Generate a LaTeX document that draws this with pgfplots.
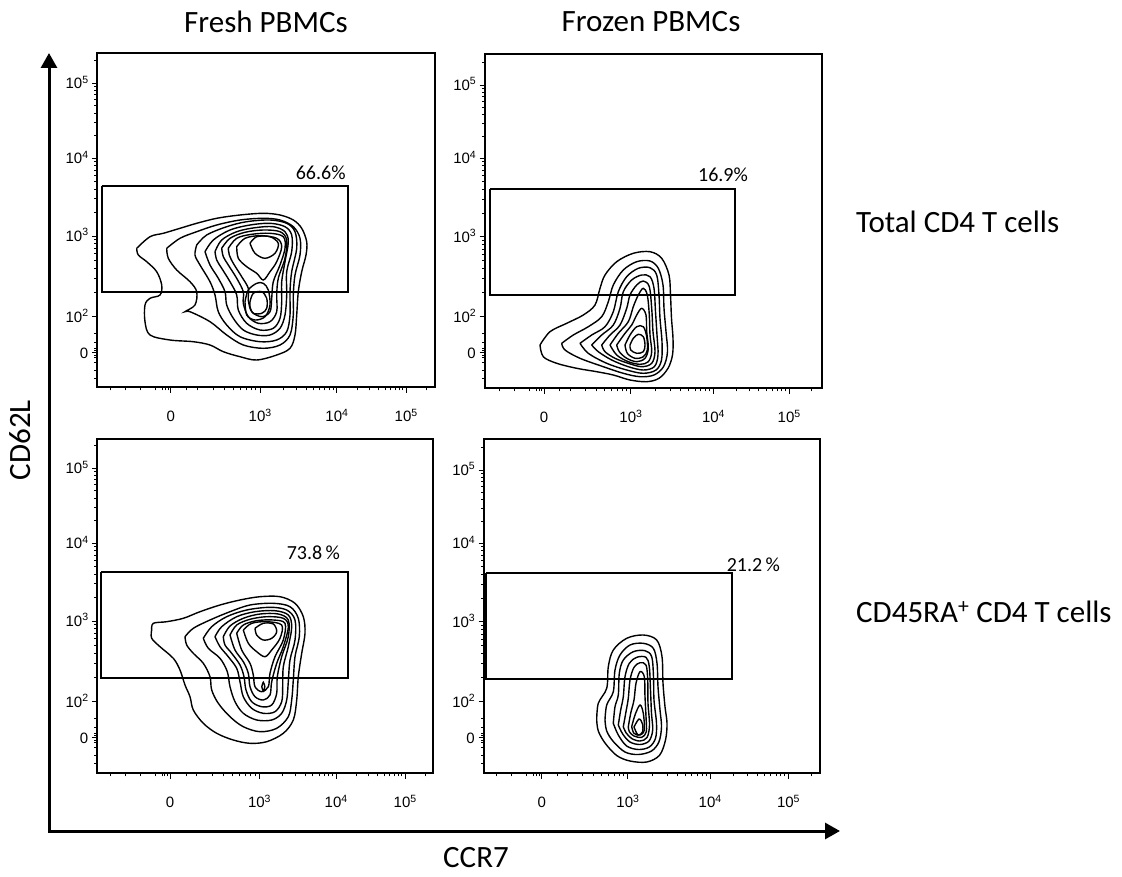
\documentclass[border=0pt]{standalone}
\usepackage{fontspec}
\setmainfont{Carlito}
\newfontfamily\arialf{Liberation Sans}
\usepackage{pgfplots}
\pgfplotsset{compat=1.18}
\usetikzlibrary{arrows.meta}

\newcommand{\tk}[1]{\arialf\fontsize{15}{16}\selectfont 10\raisebox{5.5pt}{\fontsize{10.5}{11}\selectfont #1}}
\newcommand{\tz}{\arialf\fontsize{15}{16}\selectfont 0}

\tikzset{pct/.style={font=\fontsize{20}{22}\selectfont}}
\pgfplotsset{
  flowpanel/.style={
    scale only axis, y dir=reverse, clip=false,
    axis line style={line width=2.2pt},
    tick align=outside, tick pos=left,
    major tick length=5.5pt, minor tick length=3pt,
    every tick/.style={black, line width=1pt},
    xticklabel style={anchor=base, inner sep=0pt, yshift=-29pt},
    yticklabel style={anchor=base east, inner sep=0pt, yshift=-5.3pt, xshift=-3.5pt},
    xticklabels={\tz,\tk{3},\tk{4},\tk{5}},
    yticklabels={\tk{5},\tk{4},\tk{3},\tk{2},\tz},
  },
  cont/.style={black, line width=1.4pt, smooth, tension=0.55, mark=none},
  gate/.style={black, line width=1.8pt, mark=none, sharp plot},
}

\begin{document}
\begin{tikzpicture}
\useasboundingbox (0pt,0pt) rectangle (1122pt,-877pt);

% ---------------- Top left: Fresh, total CD4 ----------------
\begin{axis}[flowpanel, at={(97.3pt,-53.3pt)}, anchor=north west,
  width=337.7pt, height=334pt,
  xmin=97.3, xmax=435, ymin=53.3, ymax=387.3,
  xtick={170.7,260,336.7,406},
  minor xtick={110.7,125.7,140.7,155.7,162.7,165.5,168,186.8,197.6,213.3,224.5,233.1,240.2,246.2,251.3,255.9,283.1,296.6,306.2,313.6,319.7,324.8,329.3,333.2,357.6,369.8,378.4,385.1,390.6,395.3,399.3,402.8,426.9},
  ytick={83.3,158.3,236,316.7,352.7},
  minor ytick={60.7,86.7,90.6,94.9,99.9,105.9,113.1,122.5,135.7,161.9,165.8,170.3,175.5,181.7,189.2,198.9,212.6,239.7,243.8,248.5,253.9,260.3,268.1,278.2,292.4,333,342,348,350.5,355,357,362,370,378},
]
\addplot[gate] coordinates {(101.7,185.7) (348.3,185.7) (348.3,291.7) (101.7,291.7) (101.7,185.7)};
\node[pct] at (axis cs:320.7,172.7) {66.6\%};
\addplot[cont] coordinates {(136.7,248.3) (150,236.7) (163.3,233.3) (180,228.3) (196.7,223.3) (216.7,218.3) (240,215) (263.3,213.3) (280,215) (293.3,220) (301.7,228.3) (306.7,241.7) (306,255) (301.7,271.7) (298.3,291.7) (296.7,315) (295,335) (290,348.3) (276.7,355) (256.7,360) (240,356.7) (223.3,351.7) (210,345) (193.3,341.7) (170,340) (150,335) (145,321.7) (145,305) (150,298.3) (160,295) (161.7,285) (156.7,271.7) (146.7,261.7) (138.3,255) (136.7,248.3)};
\addplot[cont] coordinates {(166.7,248.3) (180,238.3) (196.7,231.7) (216.7,225) (240,220) (263.3,218.3) (280,220) (293.3,226.7) (300,238.3) (300,255) (295,275) (293.3,295) (293.3,315) (290,335) (280,345) (263.3,348.3) (243.3,345) (226.7,335) (210,321.7) (190,311.7) (185,311.7) (195,305) (196.7,291.7) (190,281.7) (176.7,270) (168.3,258.3) (166.7,248.3)};
\addplot[cont] coordinates {(196.7,245) (206.7,235) (226.7,226.7) (246.7,221.7) (270,220) (286.7,223.3) (295,231.7) (296.7,248.3) (291.7,271.7) (290,291.7) (290,315) (286.7,331.7) (276.7,340) (260,341.7) (240,336.7) (226.7,325) (218.3,311.7) (215,295) (210,281.7) (200,265) (195,255) (196.7,245)};
\addplot[cont] coordinates {(205,251.7) (213.3,240) (230,230) (250,225) (270,223.3) (285,226.7) (291.7,235) (291.7,251.7) (286.7,271.7) (286.7,295) (285,315) (280,328.3) (270,335) (256.7,335) (243.3,330) (233.3,318.3) (226.7,305) (225,291.7) (218.3,278.3) (210,265) (205,251.7)};
\addplot[cont] coordinates {(215,251.7) (221.7,240) (236.7,231.7) (255,227.7) (273.3,226.7) (285,231.7) (288.3,241.7) (285,261.7) (281.7,281.7) (281.7,301.7) (280,318.3) (273.3,328.3) (260,330) (246.7,323.3) (238.3,310) (236.7,295) (230,281.7) (221.7,268.3) (216.7,260) (215,251.7)};
\addplot[cont] coordinates {(221.7,248.3) (230,238.3) (245,232.3) (263.3,230) (280,231.7) (286.7,240) (285,258.3) (278.3,278.3) (276.7,295) (276.7,311.7) (270,321.7) (258.3,323.3) (248.3,316.7) (243.3,303.3) (243.3,291.7) (236.7,278.3) (228.3,265) (223.3,256.7) (221.7,248.3)};
\addplot[cont] coordinates {(228.3,248.3) (236.7,238.3) (251.7,234.3) (270,233.3) (283.3,236.7) (285,248.3) (280,265) (273.3,281.7) (271.7,298.3) (270,311.7) (261.7,316.7) (251.7,311.7) (248.3,300) (248.3,288.3) (241.7,276.7) (233.3,263.3) (229.3,255) (228.3,248.3)};
\addplot[cont] coordinates {(236.7,246.7) (245,238.3) (260,235.7) (276.7,238.3) (281.7,246.7) (276.7,261.7) (270,271.7) (263.3,280) (256.7,273.3) (246.7,266.7) (238.3,258.3) (236.7,246.7)};
\addplot[cont] coordinates {(245,301.7) (248.3,290) (256.7,283.3) (263.3,283.3) (268.3,290) (270,305) (265,316.7) (255,320) (246.7,315) (245,301.7)};
\addplot[cont] coordinates {(250,243.3) (256.7,236.7) (270,236.7) (278.3,243.3) (275,253.3) (265,258.3) (255,253.3) (250,243.3)};
\addplot[cont] coordinates {(250,301.7) (253.3,293.3) (261.7,291.7) (266.7,298.3) (266.7,308.3) (261.7,313.3) (253.3,313.3) (250,306.7) (250,301.7)};
\end{axis}

% ---------------- Top right: Frozen, total CD4 ----------------
\begin{axis}[flowpanel, at={(485pt,-54pt)}, anchor=north west,
  width=336.7pt, height=334.3pt,
  xmin=485, xmax=821.7, ymin=54, ymax=388.3,
  xtick={544,630.7,713.3,789},
  minor xtick={499,514,529,536,539,541.5,559.6,570.1,585.4,596.2,604.6,611.5,617.3,622.3,626.7,655.6,670.1,680.4,688.4,695.0,700.5,705.3,709.5,736.1,749.4,758.9,766.2,772.2,777.3,781.7,785.5,811.8},
  ytick={85,158.3,236.7,316.7,352.7},
  minor ytick={62.9,88.4,92.1,96.4,101.3,107.1,114.2,123.3,136.2,161.9,165.9,170.5,175.7,181.9,189.5,199.3,213.1,240.4,244.5,249.1,254.5,260.8,268.5,278.5,292.6,333,342,348,350.5,355,357,362,370,378},
]
\addplot[gate] coordinates {(490,189) (735,189) (735,295) (490,295) (490,189)};
\node[pct] at (axis cs:723,175) {16.9\%};
\addplot[cont] coordinates {(540,345) (550,331.7) (566.7,323.3) (583.3,315) (595,305) (600,288.3) (605,275) (616.7,261.7) (633.3,253.3) (650,251.7) (661.7,258.3) (669,275) (670.5,295) (671.5,318.3) (673,338.3) (672.5,355) (668,368.3) (659,378.3) (646.7,381.7) (630,380) (613.3,375) (596.7,371.7) (576.7,368.3) (556.7,363.3) (543.3,356.7) (540,345)};
\addplot[cont] coordinates {(561.7,343.3) (573.3,335) (588.3,326.7) (601.7,316.7) (608.3,301.7) (613.3,285) (623.3,270) (636.7,261.7) (650,261) (658.3,268.3) (663,285) (664,308.3) (666,331.7) (667.5,351.7) (663.5,366.7) (654,375) (640,376.7) (623.3,373.3) (603.3,366.7) (580,358.3) (565,350) (561.7,343.3)};
\addplot[cont] coordinates {(580,343.3) (591.7,335) (605,326.7) (613.3,311.7) (618.3,291.7) (626.7,276.7) (638.3,268.3) (650,267.7) (656.7,275) (659,295) (660,318.3) (662,341.7) (661.5,360) (656,370) (643.3,373.3) (626.7,370) (606.7,363.3) (588.3,353.3) (580,343.3)};
\addplot[cont] coordinates {(591.7,345) (601.7,335) (613.3,325) (620,308.3) (623.3,291.7) (631.7,280) (641.7,275) (650,276.7) (654,288.3) (655.5,311.7) (657,335) (658,355) (654.3,366.7) (643.3,370) (628.3,366.7) (611.7,360) (598.3,351.7) (591.7,345)};
\addplot[cont] coordinates {(601.7,345) (610,335) (620,325) (626.7,308.3) (630,295) (636.7,285) (643.3,281) (649.3,286.7) (651.7,308.3) (653,331.7) (655,351.7) (651.7,363.3) (641.7,366.7) (628.3,363.3) (615,358.3) (605,351.7) (601.7,345)};
\addplot[cont] coordinates {(610,345) (618.3,333.3) (628.3,321.7) (633.3,306.7) (638.3,295) (643.3,288.3) (647.3,295) (649.3,315) (650,335) (651.7,351.7) (648.3,361.7) (640,364.3) (628.3,361.7) (616.7,355) (610,345)};
\addplot[cont] coordinates {(616.7,345) (625,333.3) (631.7,325) (636.7,315) (641.7,308.3) (646,315) (646.7,331.7) (648.3,348.3) (645,358.3) (636.7,361.7) (626.7,358.3) (619.3,351.7) (616.7,345)};
\addplot[cont] coordinates {(625,345) (630,335) (636.7,326.7) (643.3,326.7) (646.7,336.7) (647.3,350) (643.3,356.7) (635,358.3) (627.3,353.3) (625,345)};
\addplot[cont] coordinates {(630,345) (633.3,338.3) (638.3,334.3) (643.3,336.7) (645,345) (643.3,351.7) (636.7,353.3) (630.7,350) (630,345)};
\end{axis}

% ---------------- Bottom left: Fresh, CD45RA+ ----------------
\begin{axis}[flowpanel, at={(97.3pt,-439.3pt)}, anchor=north west,
  width=336pt, height=334pt,
  xmin=97.3, xmax=433.3, ymin=439.3, ymax=773.3,
  xtick={170,259.3,336,405},
  minor xtick={110,125,140,155,162,164.8,167.3,186.1,196.9,212.6,223.8,232.4,239.5,245.5,250.6,255.2,282.4,295.9,305.5,312.9,319.0,324.1,328.6,332.5,356.8,368.9,377.5,384.2,389.7,394.3,398.3,401.8,425.8},
  ytick={468.3,543.3,621,701.7,737.7},
  minor ytick={445.7,471.7,475.6,479.9,484.9,490.9,498.1,507.5,520.7,546.9,550.8,555.3,560.5,566.7,574.2,583.9,597.6,624.7,628.8,633.5,638.9,645.3,653.1,663.2,677.4,718,727,733,735.5,740,742,747,755,763},
]
\addplot[gate] coordinates {(101,571.7) (348.3,571.7) (348.3,678.3) (101,678.3) (101,571.7)};
\node[pct] at (axis cs:313.3,552.7) {73.8\,\%};
\addplot[cont] coordinates {(151.7,630) (153.3,623.3) (166.7,621.7) (183.3,618.3) (200,611.7) (220,605) (240,600) (260,596.7) (280,596.7) (295,603.3) (303.3,616.7) (305,633.3) (301.7,653.3) (298.3,676.7) (296.7,700) (293.3,720) (283.3,733.3) (266.7,741.7) (250,743.3) (233.3,740) (216.7,733.3) (203.3,723.3) (193.3,710) (190,696.7) (185,685) (180,670) (173.3,658.3) (160,646.7) (151.7,638.3) (151.7,630)};
\addplot[cont] coordinates {(185,636.7) (193.3,628.3) (210,620) (230,611.7) (250,605) (273.3,603.3) (290,606.7) (298.3,618.3) (299.3,636.7) (295,656.7) (293.3,680) (291.7,700) (288.3,716.7) (276.7,728.3) (260,731.7) (243.3,726.7) (230,716.7) (218.3,703.3) (211.7,690) (210,676.7) (203.3,663.3) (193.3,653.3) (186.7,645) (185,636.7)};
\addplot[cont] coordinates {(203.3,638.3) (211.7,626.7) (226.7,616.7) (246.7,610) (270,607.3) (286.7,610) (295,620) (295,640) (290,660) (288.3,681.7) (286.7,700) (281.7,713.3) (271.7,720) (256.7,720) (243.3,713.3) (235,701.7) (230,686.7) (227.3,671.7) (220,658.3) (208.3,648.3) (203.3,638.3)};
\addplot[cont] coordinates {(215,636.7) (221.7,626.7) (236.7,616.7) (255,611.7) (275,610.7) (288.3,615) (291.7,626.7) (288.3,646.7) (283.3,666.7) (282.7,686.7) (281.7,701.7) (275,711.7) (263.3,713.3) (251.7,708.3) (243.3,696.7) (240,681.7) (236.7,668.3) (228.3,656.7) (220,646.7) (215,636.7)};
\addplot[cont] coordinates {(223.3,636.7) (230,626) (243.3,618.3) (260,614) (278.3,614) (288.3,620) (288.3,636.7) (281.7,656.7) (277.3,676.7) (276.7,693.3) (271.7,705) (261.7,706.7) (251.7,701.7) (246,690) (244,676.7) (240,665) (231.7,653.3) (225,645) (223.3,636.7)};
\addplot[cont] coordinates {(230,635) (236.7,625) (250,619.3) (266.7,616.7) (283.3,618.3) (288.3,626.7) (283.3,646.7) (276.7,663.3) (271.7,681.7) (270,695) (263.3,700) (255,696.7) (250,686.7) (248.3,673.3) (243.3,661.7) (235,650) (230,635)};
\addplot[cont] coordinates {(236.7,633.3) (243.3,625) (256.7,620.7) (273.3,620) (285,623.3) (283.3,640) (275,656.7) (270,673.3) (268.3,686.7) (261.7,691.7) (255,686.7) (253.3,675) (250,663.3) (241.7,650) (236.7,633.3)};
\addplot[cont] coordinates {(243.3,630) (251.7,623.3) (266.7,621.7) (281.7,625) (280,638.3) (271.7,650) (265,656.7) (256.7,651.7) (248.3,643.3) (243.3,630)};
\addplot[cont] coordinates {(255,628.3) (263.3,623.3) (273.3,624) (276.7,631.7) (271.7,638.3) (263.3,640) (256.7,635) (255,628.3)};
\addplot[cont] coordinates {(261.8,686.7) (263.3,682.3) (264.8,686.7) (263.3,691) (261.8,686.7)};
\end{axis}

% ---------------- Bottom right: Frozen, CD45RA+ ----------------
\begin{axis}[flowpanel, at={(484pt,-439.3pt)}, anchor=north west,
  width=336pt, height=334pt,
  xmin=484, xmax=820, ymin=439.3, ymax=773.3,
  xtick={541.7,627.7,710,788.3},
  minor xtick={496.7,511.7,526.7,533.7,536.5,539,557.2,567.6,582.7,593.5,601.8,608.6,614.4,619.4,623.7,652.5,667.0,677.2,685.2,691.7,697.2,702.0,706.2,733.6,747.3,757.1,764.7,770.9,776.2,780.7,784.7,811.9},
  ytick={470,543.3,621.7,701.7,737.7},
  minor ytick={447.9,473.4,477.1,481.4,486.3,492.1,499.2,508.3,521.2,546.9,550.9,555.5,560.7,566.9,574.5,584.3,598.1,625.4,629.5,634.1,639.5,645.8,653.5,663.5,677.6,718,727,733,735.5,740,742,747,755,763},
]
\addplot[gate] coordinates {(486,573.3) (732.3,573.3) (732.3,679.3) (486,679.3) (486,573.3)};
\node[pct] at (axis cs:753.3,565) {21.2\,\%};
\addplot[cont] coordinates {(596.7,720) (598.3,703.3) (606.7,688.3) (608.3,666.7) (613.3,650) (626.7,638.3) (643.3,635) (656.7,640) (662,656.7) (663,683.3) (665,706.7) (667,723.3) (665.5,740) (659.5,755.3) (646.7,762) (630,761) (616.7,755.5) (605,743) (598.3,731) (596.7,720)};
\addplot[cont] coordinates {(605,720) (606.7,705) (613.3,691.7) (615,670) (620,655) (630,645) (643.3,643.3) (653.3,648.3) (657,663.3) (658,686.7) (660,710) (661.5,726.7) (659,741.7) (651.5,751) (638.3,754.5) (625,752) (613.3,741.5) (606.7,731) (605,720)};
\addplot[cont] coordinates {(613.3,723.3) (615,706.7) (618.3,695) (619.3,673.3) (623.3,660) (633.3,651.7) (645,650.7) (651.7,656.7) (653.5,676.7) (654,700) (656.5,723.3) (655.5,738.3) (649.3,747) (638.3,749.5) (626.7,746) (618.3,735) (613.3,723.3)};
\addplot[cont] coordinates {(618.3,725) (620.7,710) (623.3,696.7) (625,676.7) (629.3,663.3) (636.7,657.3) (646,657.3) (649.3,666.7) (650.5,690) (651.5,713.3) (652.7,730) (649,741) (640,744.5) (630,742) (622.7,734) (618.3,725)};
\addplot[cont] coordinates {(623.3,726.7) (626,711.7) (628.3,698.3) (630,680) (634,667.3) (640,662.7) (646,665) (647.7,680) (648,703.3) (649.5,725) (647,737.5) (640,741) (631.7,738.5) (626,732.7) (623.3,726.7)};
\addplot[cont] coordinates {(628.3,726.7) (630.7,713.3) (634,700) (636,683.3) (640,671.7) (644.3,676.7) (645,696.7) (646,716.7) (646.3,731.7) (641.7,737.3) (634,736) (629.3,731.7) (628.3,726.7)};
\addplot[cont] coordinates {(631.7,726.7) (635,715) (640,705) (643.3,713.3) (644.3,730) (640,735) (634,733.3) (631.7,726.7)};
\addplot[cont] coordinates {(634,727) (639,719) (642.5,724) (642.5,732) (638,735) (634,727)};
\end{axis}

% ---------------- Big arrows ----------------
\draw[line width=3pt, miter limit=10,
  {Triangle[length=15pt,width=16pt]}-{Triangle[length=15pt,width=16pt]}]
  (49pt,-53pt) -- (49pt,-831pt) -- (840pt,-831pt);

% ---------------- Texts ----------------
\node[font=\fontsize{31}{34}\selectfont] at (266pt,-22pt) {Fresh PBMCs};
\node[font=\fontsize{31}{34}\selectfont] at (651pt,-22pt) {Frozen PBMCs};
\node[font=\fontsize{31}{34}\selectfont, anchor=west, inner sep=0pt] at (856pt,-222pt) {Total CD4 T cells};
\node[font=\fontsize{31}{34}\selectfont, anchor=west, inner sep=0pt] at (856pt,-612pt) {CD45RA\textsuperscript{+} CD4 T cells};
\node[font=\fontsize{31}{34}\selectfont] at (476pt,-858pt) {CCR7};
\node[font=\fontsize{31}{34}\selectfont, rotate=90] at (20pt,-440pt) {CD62L};
\end{tikzpicture}
\end{document}
